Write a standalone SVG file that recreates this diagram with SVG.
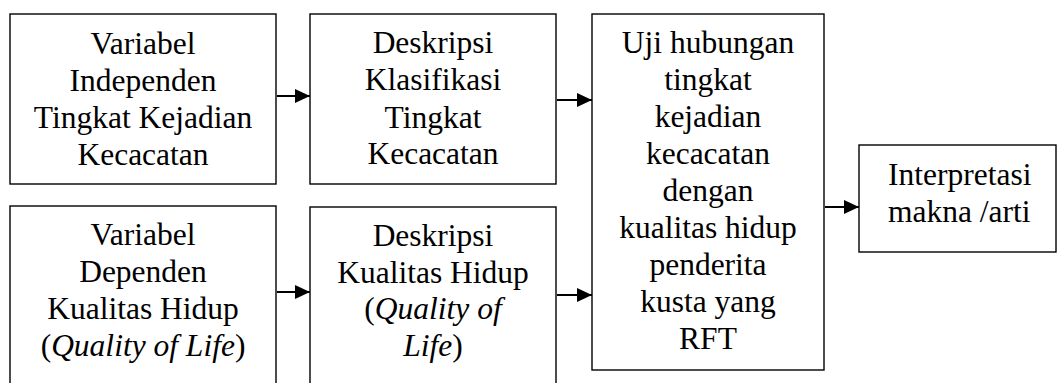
<svg xmlns="http://www.w3.org/2000/svg" width="1057" height="383" viewBox="0 0 1057 383">
<defs>
<marker id="ah" markerUnits="userSpaceOnUse" markerWidth="16" markerHeight="14" refX="15" refY="7" orient="auto">
<path d="M0,0 L15,7 L0,14 Z" fill="#000"/>
</marker>
</defs>
<rect width="1057" height="383" fill="#fff"/>
<g id="n1" font-family="serif" font-size="31.5" text-anchor="middle">
<rect fill="#fff" stroke="#000" stroke-width="1.4" x="10" y="14" width="266" height="170"/>
<text x="143" y="54">Variabel</text>
<text x="143" y="91">Independen</text>
<text x="143" y="128">Tingkat Kejadian</text>
<text x="143" y="165">Kecacatan</text>
</g>
<g id="n2" font-family="serif" font-size="31.5" text-anchor="middle">
<rect fill="#fff" stroke="#000" stroke-width="1.4" x="310" y="14" width="246" height="170"/>
<text x="433" y="53">Deskripsi</text>
<text x="433" y="90">Klasifikasi</text>
<text x="433" y="128">Tingkat</text>
<text x="433" y="164">Kecacatan</text>
</g>
<g id="n3" font-family="serif" font-size="31.5" text-anchor="middle">
<rect fill="#fff" stroke="#000" stroke-width="1.4" x="10" y="206" width="266" height="200"/>
<text x="143" y="245">Variabel</text>
<text x="143" y="282">Dependen</text>
<text x="143" y="319">Kualitas Hidup</text>
<text x="143" y="356">(<tspan font-style="italic">Quality of Life</tspan>)</text>
</g>
<g id="n4" font-family="serif" font-size="31.5" text-anchor="middle">
<rect fill="#fff" stroke="#000" stroke-width="1.4" x="310" y="207" width="246" height="200"/>
<text x="433" y="246">Deskripsi</text>
<text x="433" y="283">Kualitas Hidup</text>
<text x="433" y="319">(<tspan font-style="italic">Quality of</tspan></text>
<text x="433" y="356"><tspan font-style="italic">Life</tspan>)</text>
</g>
<g id="n5" font-family="serif" font-size="31.5" text-anchor="middle">
<rect fill="#fff" stroke="#000" stroke-width="1.4" x="592" y="14" width="232" height="356"/>
<text x="708" y="53">Uji hubungan</text>
<text x="708" y="90">tingkat</text>
<text x="708" y="127">kejadian</text>
<text x="708" y="164">kecacatan</text>
<text x="708" y="201">dengan</text>
<text x="708" y="238">kualitas hidup</text>
<text x="708" y="275">penderita</text>
<text x="708" y="312">kusta yang</text>
<text x="708" y="349">RFT</text>
</g>
<g id="n6" font-family="serif" font-size="31.5">
<rect fill="#fff" stroke="#000" stroke-width="1.4" x="859" y="145" width="197" height="107"/>
<text x="888" y="185">Interpretasi</text>
<text x="888" y="222">makna /arti</text>
</g>
<g id="connectors" stroke="#000" stroke-width="2" fill="none">
<line x1="277" y1="96" x2="310" y2="96" marker-end="url(#ah)"/>
<line x1="557" y1="100" x2="592" y2="100" marker-end="url(#ah)"/>
<line x1="277" y1="292" x2="310" y2="292" marker-end="url(#ah)"/>
<line x1="557" y1="295" x2="592" y2="295" marker-end="url(#ah)"/>
<line x1="825" y1="207" x2="859" y2="207" marker-end="url(#ah)"/>
</g>
</svg>
